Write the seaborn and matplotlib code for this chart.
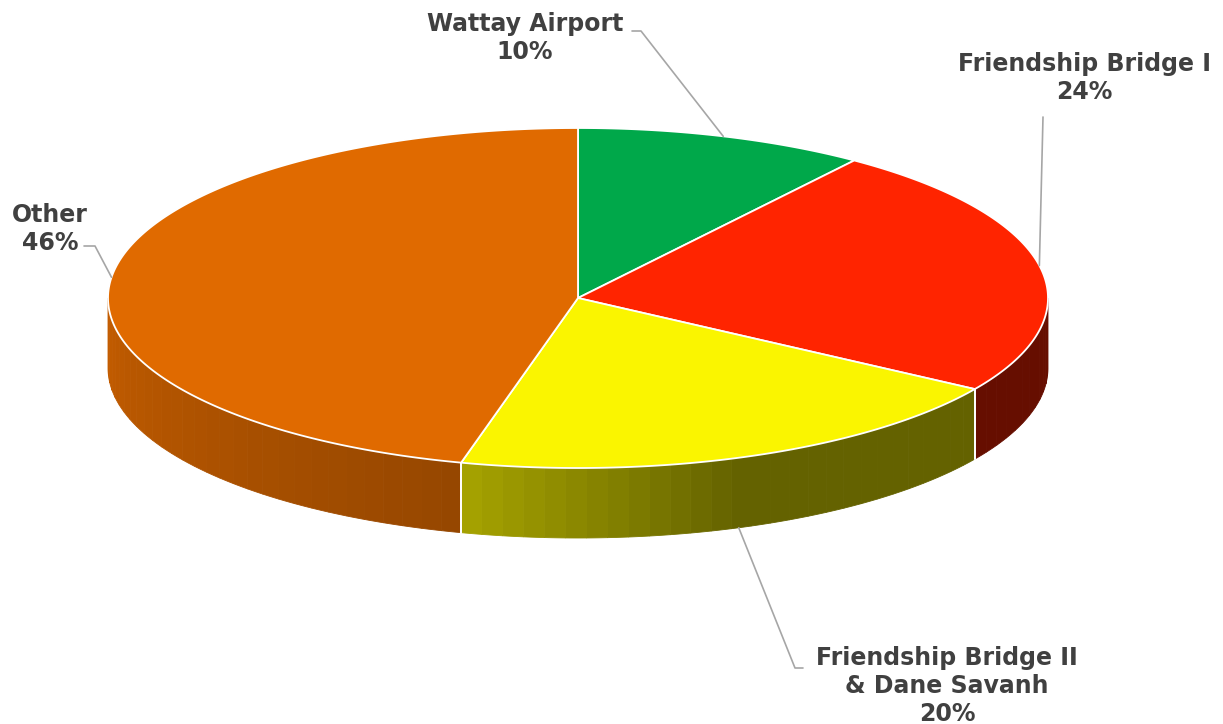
import numpy as np
import seaborn as sns
import matplotlib.pyplot as plt
from matplotlib.patches import Polygon
from matplotlib.colors import to_rgb

# Data
categories = ["Wattay Airport", "Friendship Bridge I",
              "Friendship Bridge II\n& Dane Savanh", "Other"]
shares = [10, 24, 20, 46]
colors = ["#00A84A", "#FF2400", "#FAF500", "#E06A00"]

# Label placement (pixel coords), leader line bends and where they touch the pie
label_pos = [(525, 38), (1084, 78), (947, 686), (50, 229)]
leaders = [
    [(632, 31), (641, 31)],
    [(1043, 117)],
    [(803, 668), (795, 668)],
    [(84, 246), (95, 246)],
]
leader_angle = [72, 11, -70, 173]
leader_on_wall = [False, False, True, False]

# Pie geometry in pixels
CX, CY = 578, 298
RX, RY = 470, 170
DEPTH = 70

sns.set_theme(style="white")
plt.rcParams["font.family"] = ["DejaVu Sans"]

fig = plt.figure(figsize=(12.23, 7.24), dpi=100)
ax = fig.add_axes([0, 0, 1, 1])
ax.set_xlim(0, 1223)
ax.set_ylim(724, 0)
ax.axis("off")


def pt(theta_deg, dy=0.0):
    t = np.radians(theta_deg)
    return CX + RX * np.cos(t), CY - RY * np.sin(t) + dy


def shade(theta):
    # theta in (-180, 0): front wall, lighter on the left
    return np.interp(theta, [-180, -105, -70, 0], [0.875, 0.67, 0.4, 0.4])


fracs = np.array(shares) / np.sum(shares)
bounds = 90 - 360 * np.concatenate([[0], np.cumsum(fracs)])

# side walls (front half only)
for i, col in enumerate(colors):
    a_start, a_end = bounds[i], bounds[i + 1]
    lo, hi = max(a_end, -180), min(a_start, 0)
    if lo >= hi:
        continue
    edges = np.linspace(hi, lo, max(int((hi - lo) / 2.5), 2) + 1)
    base = np.array(to_rgb(col))
    for j in range(len(edges) - 1):
        t = np.linspace(edges[j], edges[j + 1], 6)
        top = [pt(a) for a in t]
        bot = [pt(a, DEPTH) for a in t[::-1]]
        c = base * shade((edges[j] + edges[j + 1]) / 2)
        ax.add_patch(Polygon(top + bot, closed=True, facecolor=c,
                             edgecolor=c, lw=0.6, zorder=1))
    for a in (hi, lo):
        if -180 < a < 0:
            x0, y0 = pt(a)
            ax.plot([x0, x0], [y0, y0 + DEPTH], color="white", lw=1.3, zorder=2)

# top wedges
for i, col in enumerate(colors):
    t = np.linspace(bounds[i], bounds[i + 1], 200)
    verts = [(CX, CY)] + [pt(a) for a in t]
    ax.add_patch(Polygon(verts, closed=True, facecolor=col,
                         edgecolor="white", lw=1.3, zorder=3))

# labels and leader lines
for i, name in enumerate(categories):
    x, y = label_pos[i]
    ax.text(x, y, f"{name}\n{shares[i]}%", ha="center", va="center",
            fontsize=17, fontweight="bold", color="#404040",
            linespacing=1.2, zorder=6)
    px, py = pt(leader_angle[i], DEPTH if leader_on_wall[i] else 0)
    line = leaders[i] + [(px, py)]
    ax.plot(*zip(*line), color="#A6A6A6", lw=1.2, zorder=5)

fig.savefig("out.png", dpi=100, facecolor="white")
